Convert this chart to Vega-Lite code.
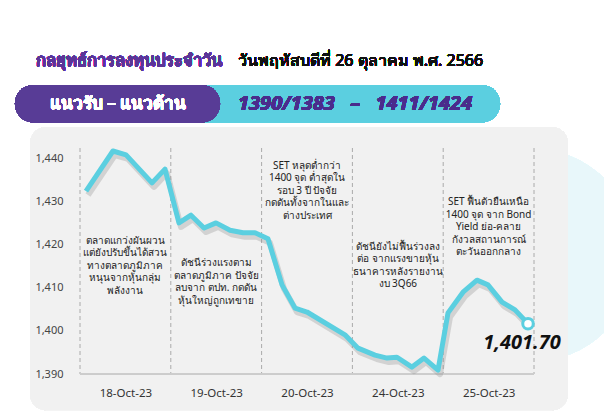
{
  "$schema": "https://vega.github.io/schema/vega-lite/v6.json",
  "width": 454,
  "height": 226,
  "autosize": {"type": "none"},
  "padding": {"left": 80, "top": 148, "right": 70, "bottom": 44},
  "background": "white",
  "config": {"view": {"stroke": null}, "font": "Noto Sans"},
  "datasets": {
    "set": [
      {"d": 0.066, "v": 1432.5},
      {"d": 0.363, "v": 1441.8},
      {"d": 0.507, "v": 1440.9},
      {"d": 0.793, "v": 1434.4},
      {"d": 0.936, "v": 1437.6},
      {"d": 1.09, "v": 1425.1},
      {"d": 1.222, "v": 1426.9},
      {"d": 1.366, "v": 1423.9},
      {"d": 1.498, "v": 1425.1},
      {"d": 1.652, "v": 1423.4},
      {"d": 1.795, "v": 1422.8},
      {"d": 1.927, "v": 1422.8},
      {"d": 2.07, "v": 1421.4},
      {"d": 2.225, "v": 1410.7},
      {"d": 2.368, "v": 1405.3},
      {"d": 2.5, "v": 1404.4},
      {"d": 2.918, "v": 1399.1},
      {"d": 3.062, "v": 1396.0},
      {"d": 3.249, "v": 1394.4},
      {"d": 3.381, "v": 1393.7},
      {"d": 3.491, "v": 1393.9},
      {"d": 3.656, "v": 1391.6},
      {"d": 3.789, "v": 1393.7},
      {"d": 3.943, "v": 1390.9},
      {"d": 4.053, "v": 1404.2},
      {"d": 4.218, "v": 1409.0},
      {"d": 4.372, "v": 1411.8},
      {"d": 4.493, "v": 1410.7},
      {"d": 4.648, "v": 1406.7},
      {"d": 4.791, "v": 1404.9},
      {"d": 4.934, "v": 1401.7}
    ],
    "last": [{"d": 4.934, "v": 1401.7, "label": "1,401.70"}],
    "bounds": [{"d": 0}, {"d": 1}, {"d": 2}, {"d": 3}, {"d": 4}, {"d": 5}],
    "notes": [
      {"d": 0.5, "v": 1422.1, "text": ["ตลาดแกว่งผันผวน", "แต่ยังปรับขึ้นได้สวน", "ทางตลาดภูมิภาค", "หนุนจากหุ้นกลุ่ม", "พลังงาน"]},
      {"d": 1.5, "v": 1416.9, "text": ["ดัชนีร่วงแรงตาม", "ตลาดภูมิภาค ปัจจัย", "ลบจาก ตปท. กดดัน", "หุ้นใหญ่ถูกเทขาย"]},
      {"d": 2.5, "v": 1439.5, "text": ["SET หลุดต่ำกว่า", "1400 จุด ต่ำสุดใน", "รอบ 3 ปี ปัจจัย", "กดดันทั้งจากในและ", "ต่างประเทศ"]},
      {"d": 3.5, "v": 1420.7, "text": ["ดัชนียังไม่ฟื้นร่วงลง", "ต่อ จากแรงขายหุ้น", "ธนาคารหลังรายงาน", "งบ 3Q66"]},
      {"d": 4.5, "v": 1431.1, "text": ["SET ฟื้นตัวยืนเหนือ", "1400 จุด จาก Bond", "Yield ย่อ-คลาย", "กังวลสถานการณ์", "ตะวันออกกลาง"]}
    ]
  },
  "data": {"name": "set"},
  "encoding": {
    "x": {"field": "d", "type": "quantitative", "scale": {"domain": [0, 5], "nice": false, "zero": false},
      "axis": {"values": [0.5, 1.5, 2.5, 3.5, 4.5], "labelExpr": "['18-Oct-23','19-Oct-23','20-Oct-23','24-Oct-23','25-Oct-23'][floor(datum.value)]", "domain": false, "ticks": false, "grid": false, "labelPadding": 13, "labelFontSize": 11.5, "labelColor": "#333333", "title": null, "zindex": 1}},
    "y": {"field": "v", "type": "quantitative", "scale": {"domain": [1390, 1442.5], "nice": false, "zero": false},
      "axis": {"values": [1390, 1400, 1410, 1420, 1430, 1440], "labelExpr": "format(datum.value, ',.0f')", "domain": false, "ticks": false, "grid": false, "labelPadding": 17, "labelFontSize": 11, "labelColor": "#444444", "title": null, "zindex": 1}}
  },
  "layer": [
    {
      "mark": {"type": "point", "shape": "circle", "filled": true, "color": "#E8F7FA", "opacity": 1, "size": 45796},
      "encoding": {"x": {"datum": 4.956}, "y": {"datum": 1417.6}}
    },
    {
      "mark": {"type": "rect", "color": "#F1F1F1", "cornerRadius": 16},
      "encoding": {"x": {"datum": -0.551}, "x2": {"datum": 5.374}, "y": {"datum": 1447.4}, "y2": {"datum": 1381.6}}
    },
    {
      "mark": {"type": "rect", "color": "#5BCFE0", "cornerRadius": 18},
      "encoding": {"x": {"datum": 1.2}, "x2": {"datum": 4.626}, "y": {"datum": 1457.1}, "y2": {"datum": 1448.5}}
    },
    {
      "mark": {"type": "rect", "color": "#583C96", "cornerRadius": 18},
      "encoding": {"x": {"datum": -0.716}, "x2": {"datum": 1.542}, "y": {"datum": 1457.1}, "y2": {"datum": 1448.5}}
    },
    {
      "mark": {"type": "text", "text": "แนวรับ – แนวต้าน", "color": "white", "fontSize": 17, "fontWeight": "bold", "align": "center", "baseline": "middle"},
      "encoding": {"x": {"datum": 0.419}, "y": {"datum": 1452.8}}
    },
    {
      "mark": {"type": "text", "text": "1390/1383\u00a0\u00a0\u00a0–\u00a0\u00a0\u00a01411/1424", "color": "#4A2C8C", "fontSize": 20, "fontWeight": "bold", "fontStyle": "italic", "align": "center", "baseline": "middle"},
      "encoding": {"x": {"datum": 3.03}, "y": {"datum": 1452.8}}
    },
    {
      "mark": {"type": "text", "text": "กลยุทธ์การลงทุนประจำวัน", "color": "#5B3598", "fontSize": 16.5, "fontWeight": "bold", "align": "left", "baseline": "middle"},
      "encoding": {"x": {"datum": -0.485}, "y": {"datum": 1462.6}}
    },
    {
      "mark": {"type": "text", "text": "วันพฤหัสบดีที่ 26 ตุลาคม พ.ศ. 2566", "color": "#111111", "fontSize": 16, "align": "left", "baseline": "middle"},
      "encoding": {"x": {"datum": 1.74}, "y": {"datum": 1462.6}}
    },
    {
      "data": {"name": "bounds"},
      "mark": {"type": "rule", "color": "#AAAAAA", "strokeDash": [4, 3], "strokeWidth": 1},
      "encoding": {"x": {"field": "d", "type": "quantitative"}, "y": null}
    },
    {
      "mark": {"type": "rule", "color": "#CCCCCC", "strokeWidth": 1},
      "encoding": {"x": {"datum": 0}, "x2": {"datum": 5}, "y": {"datum": 1390}}
    },
    {
      "mark": {"type": "line", "color": "#8A8A8A", "strokeWidth": 6, "opacity": 0.3, "xOffset": 2, "yOffset": 4, "strokeJoin": "round"},
      "encoding": {}
    },
    {
      "mark": {"type": "line", "color": "#5BCFE0", "strokeWidth": 5, "strokeJoin": "round"},
      "encoding": {}
    },
    {
      "data": {"name": "last"},
      "mark": {"type": "point", "shape": "circle", "filled": true, "fill": "white", "stroke": "#5BCFE0", "strokeWidth": 3, "size": 110, "opacity": 1},
      "encoding": {}
    },
    {
      "data": {"name": "last"},
      "mark": {"type": "text", "fontSize": 20, "fontWeight": "bold", "fontStyle": "italic", "color": "#111111", "dx": -6, "dy": 19, "align": "center", "baseline": "middle"},
      "encoding": {"text": {"field": "label"}}
    },
    {
      "data": {"name": "notes"},
      "mark": {"type": "text", "fontSize": 10, "lineHeight": 12.5, "color": "#222222", "align": "center", "baseline": "top"},
      "encoding": {"text": {"field": "text"}}
    }
  ]
}
